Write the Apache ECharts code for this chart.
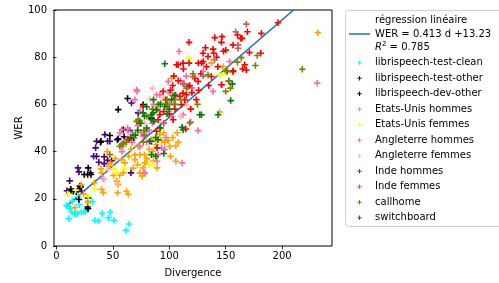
<!DOCTYPE html>
<html>
<head>
<meta charset="utf-8">
<script src="https://cdn.jsdelivr.net/npm/echarts@6/dist/echarts.min.js"></script>
<style>
	html, body { margin: 0; padding: 0; background: #fff; }
	#chart-area { width: 499px; height: 283px; }
</style>
</head>
<body>
<div id="chart-area"></div>
<script>
// régression linéaire : WER = a d + b
var regSlope = 0.413;
var regIntercept = 13.23;
var regR2 = 0.785;
var regRange = [8.9, 233];

var xTicks = [0, 50, 100, 150, 200];
var yTicks = [0, 20, 40, 60, 80, 100];

var seriesNames = ['librispeech-test-clean', 'librispeech-test-other', 'librispeech-dev-other',
	'Etats-Unis hommes', 'Etats-Unis femmes', 'Angleterre hommes', 'Angleterre femmes',
	'Inde hommes', 'Inde femmes', 'callhome', 'switchboard'];

var testClean = [[8.9,17.2],[9.9,16.9],[10.9,11.6],[12,16],[13.4,14.4],[14,19],[16.1,13.8],[16.9,13.4],[18.4,13.8],[19,21],[20.2,17.5],[22,14.5],[24.3,14.5],[26,15],[27.9,18.9],[32,18.8],[34,10.9],[37.3,10.6],[40.5,13.8],[46.2,12],[47.6,14.4],[50.9,10.9],[61.5,6.6],[64.4,9.3]];
var testOther = [[9.3,23.4],[12.8,23.4],[11.7,27.6],[19,33.1],[19.9,31.4],[22.3,23.2],[30,31],[32.9,38],[34.7,41.6],[35.5,44.4],[35.5,38],[37.6,35.5],[42.3,37.8],[42.3,34.9],[45.3,44.4],[45.3,36.3],[48.8,36.1],[42.9,47.2],[47.3,44.4],[54.7,45.4],[65,48.9],[66.5,60.6],[72.4,56.4],[66,31]];
var devOther = [[12.6,24],[14.9,23.2],[17.5,23],[19.3,24],[19.9,19.7],[20.8,25.4],[21.5,25],[24.6,30.3],[27.6,30.3],[28.1,33.1],[30.5,30.3],[28.1,20.4],[27.6,16.5],[27.9,15.8],[39.4,44.4],[39.1,44],[47.3,46.8],[54,45],[54.7,57.8],[59.1,49.3],[63,62.5],[65,45.8],[68.6,45.8],[76.8,59.9],[84.2,54.2],[84.2,44.4],[60,46.3]];
var usHommes = [[16.4,16.2],[24,22],[22,26],[28.1,18.3],[33.5,26.8],[39.4,32.7],[40,31],[40,24],[41.4,22.6],[45,40],[45.8,33.8],[48,35],[50.6,29.9],[52,37],[53.3,27.5],[54.7,26.1],[54.2,22.6],[56,30],[57.7,36.6],[59.1,31],[59.1,42.2],[60.6,35.2],[62.1,23.2],[63.6,21.8],[64,38],[66,41],[68,33],[69.5,36.6],[69.5,38.7],[71.9,34.5],[72.4,42.2],[73.9,31],[73.9,38.7],[75.9,29.6],[76.8,33.1],[77.4,30.7],[78,38.7],[78.3,35.2],[80,37],[82,41],[85,40],[86,36],[88,43],[89.2,33.1],[91.6,47.2],[92.5,60.6],[93,44.7],[95,48],[96,44],[99,44.7],[100.4,42.2],[101,38],[102,71.1],[103,46],[105.8,42.5],[105.8,35.9],[107,48],[108,44],[137.3,77.5],[144.7,56.8],[147.6,76],[231.7,90.4]];
var usFemmes = [[10,22],[17,23.7],[28.1,20.9],[34,24.2],[50.3,32.7],[53.3,31],[60,33],[82.1,34.4],[85.7,34.5],[85.7,45.8],[100,60],[118.1,58],[117.5,79.6],[144.7,72.5],[149.1,73.3]];
var angHommes = [[41.4,28.5],[56.2,47.9],[57.7,49.3],[58,40],[62,45],[63,50],[65,48],[67,44],[69.5,62],[71,66.2],[71.5,65.5],[72,51],[73.9,57],[73.9,42.2],[75,48],[76.8,46.5],[78.3,31],[79.8,48.6],[80,44],[82,49],[84,45],[85,52],[86,60],[88,58],[88.7,64.1],[89.2,35.9],[90.1,38.7],[91.6,64.1],[92,57],[93.1,41.6],[95,52],[96,40.9],[97,46],[99,69.7],[99.8,57],[100,65],[102,55],[104,60],[106,64],[108.7,82.4],[110,70],[111.3,35.2],[112.2,55.6],[115,72],[119,52.6],[120,67],[125.5,48.9],[130,74],[138.8,65.5],[146.7,68.3],[153.5,78.2],[231.1,69]];
var angFemmes = [[42.3,28.2],[45.8,32.4],[53.8,26.5],[60,43],[65,47],[70,46],[78,52],[82.7,62.3],[85.1,66.9],[95,63],[102,66.2],[110,55],[115,60],[125,70]];
var indeHommes = [[63.6,45.1],[76.8,59.1],[88.7,48.6],[89.2,41.6],[90.1,53.5],[91.6,55.6],[92,50],[94.5,65.5],[95,57],[96.9,62],[98,60],[100,56],[101,66],[103,68],[103.4,53.5],[104,72],[105,58],[106.4,76.8],[107.8,76.8],[108,70],[109.3,63.4],[110.8,59.9],[112.2,64.8],[112.2,77.5],[112.5,75],[113.7,62],[114.6,49.6],[115.2,64.1],[116.6,67.6],[117.5,86.3],[117.5,77.5],[118,68],[119,58],[120,65],[122.6,71.1],[124,62],[125.5,69.7],[125.7,77.5],[126,66],[128.6,77.5],[128,73],[129.9,81.7],[130,78.2],[132,84],[132.9,76],[134.3,80.3],[135,68],[137.3,71.8],[138.8,83.4],[139.4,81.7],[140.3,88.3],[142,80],[143,76],[146.2,86.3],[146.7,88.7],[146.2,68.3],[148,82.5],[150,83],[156.5,85.2],[156.5,73.9],[156.5,74.2],[160.4,89.4],[163.3,88],[164.4,88],[165,75],[166.8,76.8],[168.3,74.6],[169.2,90.8],[171,82],[181.6,90.1],[181,81.7],[196.3,94.6]];
var indeFemmes = [[95,52],[100,60],[105,62],[112.2,68.7],[113.1,68.7],[121,71.8],[130,72],[140,79],[158.8,90.8],[160.9,83.8],[160.9,85.2],[168.3,94]];
var callhome = [[47.3,38.7],[56.2,42.2],[57.7,43],[59.1,43.4],[62,44],[68,47],[71,52.8],[72.4,53.5],[73.9,53.1],[75,52],[77,44],[78,47],[77.5,49],[80,55],[85,58],[90,60],[98,62],[103.4,63.7],[105,60],[110,62],[115.2,66.9],[118.1,52.1],[121,73],[125,60],[134.3,72.5],[150,65.5],[150.6,74.2],[151.5,73.9],[152.7,70],[152.9,69.7],[154.2,66.9],[160.4,77.9],[163.9,79.8],[176.3,76.5],[178,80.7],[217.9,74.9]];
var switchboard = [[66,46],[70,47],[72,49],[74,52],[76.8,56.4],[78,55],[80,50],[80,59],[82.7,44.4],[84.2,38.7],[84.2,55.6],[84.2,53.5],[85.7,56.4],[86,62],[86.3,52.8],[88,46],[88.1,38],[88.7,57.7],[90,45],[92,50],[92,60],[95.1,39.2],[96,59.1],[96,77.2],[98,56],[100,58],[102,62],[105,64],[111.3,50.3],[112.2,49.3],[127,55.6],[128.5,55.6],[143.2,55.6],[154.4,61.6],[155.9,68.7]];

var seriesData = [testClean, testOther, devOther, usHommes, usFemmes, angHommes, angFemmes, indeHommes, indeFemmes, callhome, switchboard];
var seriesColors = ['#00ffff', '#4b0082', '#000000', '#ffa500', '#ffff00', '#ff69b4', '#ffb6c1', '#ff0000', '#cd5c5c', '#808000', '#008000'];

var plusIcon = 'path://M3,0H5V3H8V5H5V8H3V5H0V3H3Z';
var regName = 'régression linéaire';

function initChart() {
	var myChart = echarts.init(document.getElementById('chart-area'), null, {renderer: 'canvas'});
	var font = 'DejaVu Sans';

	var regLine = [];
	for (var i = 0; i < regRange.length; i++) {
		regLine.push([regRange[i], regSlope * regRange[i] + regIntercept]);
	}

	var series = [{
		name: regName,
		type: 'line',
		data: regLine,
		symbol: 'none',
		z: 1,
		lineStyle: {color: '#1f77b4', width: 1.5},
		itemStyle: {color: '#1f77b4'}
	}];
	for (var k = 0; k < seriesNames.length; k++) {
		series.push({
			name: seriesNames[k],
			type: 'scatter',
			data: seriesData[k],
			symbol: plusIcon,
			symbolSize: 6.5,
			z: 2 + k,
			itemStyle: {color: seriesColors[k], opacity: 1}
		});
	}

	var legendData = [{name: regName, icon: 'path://M0,0H21V1.5H0Z'}];
	for (var j = 0; j < seriesNames.length; j++) {
		legendData.push({name: seriesNames[j], icon: plusIcon});
	}

	var option = {
		animation: false,
		backgroundColor: '#fff',
		textStyle: {fontFamily: font},
		grid: {
			left: 54, top: 10, width: 278, height: 237,
			show: true, borderColor: '#000', borderWidth: 1, backgroundColor: 'transparent'
		},
		graphic: [{
			type: 'rect',
			shape: {x: 345.5, y: 10.5, width: 170, height: 216, r: 3},
			style: {fill: '#fff', stroke: '#d0d0d0', lineWidth: 1},
			z: 0
		}],
		legend: {
			orient: 'vertical',
			left: 349, top: 14,
			itemWidth: 21, itemHeight: 4.5,
			itemGap: 2.2,
			padding: 0,
			selectedMode: false,
			data: legendData,
			textStyle: {
				fontFamily: font, fontSize: 10, color: '#000', lineHeight: 13.3,
				rich: {
					it: {fontFamily: font, fontSize: 10, fontStyle: 'italic', color: '#000', lineHeight: 13.3},
					sup: {fontFamily: font, fontSize: 7, color: '#000', verticalAlign: 'top', lineHeight: 13.3}
				}
			},
			formatter: function (name) {
				if (name == regName) {
					return name + '\nWER = ' + regSlope + ' d +' + regIntercept + '\n{it|R}{sup|2} = ' + regR2;
				}
				return name;
			}
		},
		xAxis: {
			type: 'value',
			min: -2.2, max: 244.2,
			name: 'Divergence',
			nameLocation: 'middle',
			nameGap: 22,
			nameMoveOverlap: false,
			nameTextStyle: {fontFamily: font, fontSize: 10, color: '#000'},
			splitLine: {show: false},
			axisLine: {show: false},
			axisTick: {show: true, inside: false, length: 3.5, customValues: xTicks, lineStyle: {color: '#000', width: 0.8}},
			axisLabel: {fontFamily: font, fontSize: 10, color: '#000', margin: 5, customValues: xTicks}
		},
		yAxis: {
			type: 'value',
			min: 0, max: 100, interval: 20,
			name: 'WER',
			nameLocation: 'middle',
			nameGap: 30,
			nameMoveOverlap: false,
			nameTextStyle: {fontFamily: font, fontSize: 10, color: '#000'},
			splitLine: {show: false},
			axisLine: {show: false},
			axisTick: {show: true, inside: false, length: 3.5, customValues: yTicks, lineStyle: {color: '#000', width: 0.8}},
			axisLabel: {fontFamily: font, fontSize: 10, color: '#000', margin: 7, customValues: yTicks}
		},
		series: series
	};
	myChart.setOption(option);
}
initChart();
</script>
</body>
</html>
